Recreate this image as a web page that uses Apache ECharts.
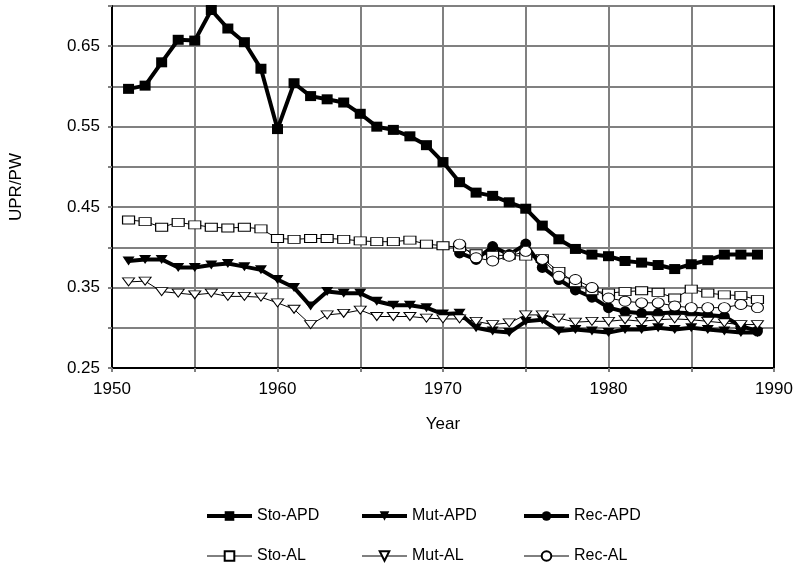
<!DOCTYPE html>
<html>
<head>
<meta charset="utf-8">
<script src="https://cdn.jsdelivr.net/npm/echarts@6/dist/echarts.min.js"></script>
<style>
  html, body { margin: 0; padding: 0; background: #fff; }
  #chart { width: 796px; height: 576px; }
</style>
</head>
<body>
<div id="chart"></div>
<script>
// years 1951..1989, Rec-* series only start in 1971
const years = [1951, 1952, 1953, 1954, 1955, 1956, 1957, 1958, 1959, 1960,
  1961, 1962, 1963, 1964, 1965, 1966, 1967, 1968, 1969, 1970,
  1971, 1972, 1973, 1974, 1975, 1976, 1977, 1978, 1979, 1980,
  1981, 1982, 1983, 1984, 1985, 1986, 1987, 1988, 1989];
const recYears = years.slice(20);

const stoAPD = [0.597, 0.601, 0.630, 0.658, 0.657, 0.695, 0.672, 0.655, 0.622, 0.547,
  0.604, 0.588, 0.584, 0.580, 0.566, 0.550, 0.546, 0.538, 0.527, 0.506,
  0.481, 0.468, 0.464, 0.456, 0.448, 0.427, 0.410, 0.398, 0.391, 0.389,
  0.383, 0.381, 0.378, 0.373, 0.379, 0.384, 0.391, 0.391, 0.391];
const mutAPD = [0.383, 0.385, 0.385, 0.375, 0.375, 0.378, 0.380, 0.376, 0.372, 0.360,
  0.350, 0.327, 0.345, 0.343, 0.343, 0.333, 0.328, 0.328, 0.325, 0.317,
  0.318, 0.300, 0.296, 0.294, 0.308, 0.310, 0.296, 0.298, 0.296, 0.294,
  0.298, 0.298, 0.300, 0.298, 0.300, 0.298, 0.296, 0.294, 0.294];
const recAPD = [0.393, 0.385, 0.401, 0.391, 0.404, 0.375, 0.360, 0.347, 0.338, 0.325,
  0.320, 0.318, 0.318, 0.319, 0.318, 0.316, 0.314, 0.302, 0.296];
const stoAL = [0.434, 0.432, 0.425, 0.431, 0.428, 0.425, 0.424, 0.425, 0.423, 0.411,
  0.410, 0.411, 0.411, 0.410, 0.408, 0.407, 0.407, 0.409, 0.404, 0.402,
  0.400, 0.392, 0.390, 0.390, 0.389, 0.386, 0.370, 0.356, 0.346, 0.343,
  0.345, 0.346, 0.344, 0.337, 0.348, 0.343, 0.341, 0.340, 0.335];
const mutAL = [0.357, 0.358, 0.345, 0.343, 0.341, 0.343, 0.339, 0.339, 0.338, 0.331,
  0.323, 0.304, 0.316, 0.318, 0.322, 0.314, 0.314, 0.314, 0.312, 0.311,
  0.311, 0.308, 0.304, 0.306, 0.316, 0.316, 0.312, 0.307, 0.308, 0.308,
  0.310, 0.308, 0.310, 0.311, 0.310, 0.308, 0.306, 0.304, 0.304];
const recAL = [0.404, 0.387, 0.383, 0.389, 0.395, 0.385, 0.364, 0.360, 0.350, 0.337,
  0.333, 0.331, 0.331, 0.327, 0.325, 0.325, 0.325, 0.329, 0.325];

const yTicks = ['0.25', '0.35', '0.45', '0.55', '0.65'];
const xTicks = [1950, 1960, 1970, 1980, 1990];

const font = 'Liberation Sans, Arial, sans-serif';
const pairs = (xs, ys) => xs.map((x, i) => [x, ys[i]]);
const downTri = 'path://M0,0 L10,0 L5,8 Z';

const filled = (name, xs, ys, symbol, size) => ({
  name, type: 'line', data: pairs(xs, ys),
  symbol, symbolSize: size, showAllSymbol: true,
  lineStyle: { color: '#000', width: 4 },
  itemStyle: { color: '#000', borderColor: '#000', borderWidth: 0 },
  emphasis: { disabled: true }, animation: false,
});
const open = (name, xs, ys, symbol, size) => ({
  name, type: 'line', data: pairs(xs, ys),
  symbol, symbolSize: size, showAllSymbol: true,
  lineStyle: { color: '#000', width: 1 },
  itemStyle: { color: '#fff', borderColor: '#000', borderWidth: 1 },
  emphasis: { disabled: true }, animation: false,
});

const legendBase = {
  orient: 'vertical', top: 508, padding: 0,
  itemWidth: 45, itemHeight: 12, itemGap: 24,
  lineStyle: { width: 'inherit' },
  textStyle: { fontFamily: font, fontSize: 16, color: '#000' },
  selectedMode: false,
};

const myChart = echarts.init(document.getElementById('chart'), null, { renderer: 'canvas' });

const option = {
  backgroundColor: '#fff',
  animation: false,
  grid: { left: 110, right: 22, top: 6, bottom: 208 },
  legend: [
    Object.assign({}, legendBase, { left: 205, data: ['Sto-APD', 'Sto-AL'] }),
    Object.assign({}, legendBase, { left: 360, data: ['Mut-APD', 'Mut-AL'] }),
    Object.assign({}, legendBase, { left: 522, data: ['Rec-APD', 'Rec-AL'] }),
  ],
  xAxis: {
    type: 'value', min: 1950, max: 1990, interval: 5,
    name: 'Year', nameLocation: 'middle', nameGap: 48,
    nameTextStyle: { fontFamily: font, fontSize: 17, color: '#000' },
    axisLine: { lineStyle: { color: '#000', width: 2 } },
    axisTick: { show: true, length: 4, lineStyle: { color: '#808080', width: 2 } },
    axisLabel: {
      fontFamily: font, fontSize: 17, color: '#000', margin: 13,
      formatter: v => (xTicks.includes(v) ? String(v) : ''),
    },
    splitLine: { show: true, lineStyle: { color: '#808080', width: 2 } },
  },
  yAxis: [
    {
      type: 'value', min: 0.25, max: 0.7, interval: 0.05,
      name: 'UPR/PW', nameLocation: 'middle', nameGap: 87, nameRotate: 90,
      nameTextStyle: { fontFamily: font, fontSize: 17, color: '#000' },
      axisLine: { show: true, lineStyle: { color: '#000', width: 2 } },
      axisTick: { show: true, length: 4, lineStyle: { color: '#808080', width: 2 } },
      axisLabel: {
        fontFamily: font, fontSize: 17, color: '#000', margin: 12,
        formatter: v => {
          const s = v.toFixed(2);
          return yTicks.includes(s) ? s : '';
        },
      },
      splitLine: { show: true, lineStyle: { color: '#808080', width: 2 } },
    },
    {
      type: 'value', min: 0.25, max: 0.7, interval: 0.05, position: 'right',
      axisLine: { show: true, lineStyle: { color: '#000', width: 2 } },
      axisTick: { show: false }, axisLabel: { show: false }, splitLine: { show: false },
    },
  ],
  series: [
    filled('Sto-APD', years, stoAPD, 'rect', [11, 10]),
    filled('Mut-APD', years, mutAPD, downTri, [12, 9]),
    filled('Rec-APD', recYears, recAPD, 'circle', 11),
    open('Sto-AL', years, stoAL, 'rect', [12, 8]),
    open('Mut-AL', years, mutAL, downTri, [12, 8]),
    open('Rec-AL', recYears, recAL, 'circle', [12, 10]),
  ],
};

myChart.setOption(option);
</script>
</body>
</html>
